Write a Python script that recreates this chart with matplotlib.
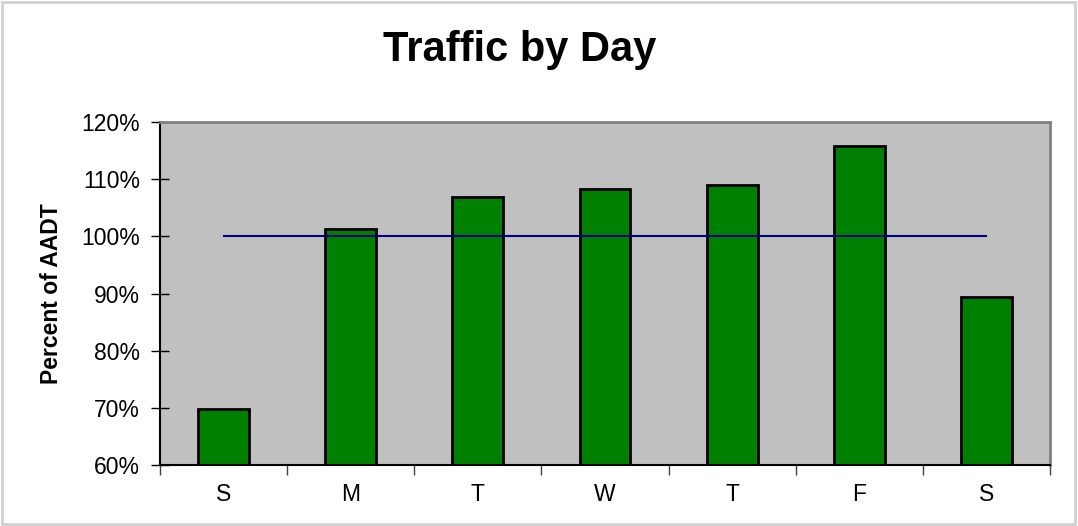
import matplotlib
matplotlib.use("Agg")
import matplotlib.pyplot as plt
from matplotlib.patches import Rectangle
import numpy as np

# datos
dias = ["S", "M", "T", "W", "T", "F", "S"]
porcentaje = [69.8, 101.3, 106.9, 108.2, 109.0, 115.8, 89.4]
referencia = [100, 100, 100, 100, 100, 100, 100]
y_ticks = [60, 70, 80, 90, 100, 110, 120]

plt.rcParams['font.family'] = ['Liberation Sans', 'DejaVu Sans']

fig = plt.figure(figsize=(10.78, 5.26), dpi=100)
ax = fig.add_axes([0.1484, 0.116, 0.8256, 0.652])
ax.set_facecolor("#C0C0C0")

x = np.arange(len(dias))
ax.bar(x, porcentaje, width=0.4, color="#008000", edgecolor="black", linewidth=2, zorder=2)
ax.plot(x, referencia, color="#000080", linewidth=1.5, zorder=3)

ax.set_xlim(-0.5, len(dias) - 0.5)
ax.set_ylim(60, 120)
ax.set_yticks(y_ticks)
ax.set_yticklabels([f"{v}%" for v in y_ticks], fontsize=16.5)
ax.tick_params(axis="y", direction="inout", length=13, width=1, pad=8)

ax.set_xticks(x)
ax.set_xticklabels(dias, fontsize=16.5)
ax.tick_params(axis="x", which="major", length=0, pad=13)
ax.set_xticks(np.arange(len(dias) + 1) - 0.5, minor=True)
ax.tick_params(axis="x", which="minor", direction="out", length=7, width=1, color="#404040")

for lado in ["top", "right"]:
    ax.spines[lado].set_color("#808080")
    ax.spines[lado].set_linewidth(2)
for lado in ["left", "bottom"]:
    ax.spines[lado].set_color("black")
    ax.spines[lado].set_linewidth(1.5)

ax.set_ylabel("Percent of AADT", fontsize=16.5, fontweight="bold", labelpad=13)
fig.text(0.482, 0.905, "Traffic by Day", fontsize=30, fontweight="bold", ha="center", va="center")

# borde de la figura
fig.patches.append(Rectangle((0.002, 0.004), 0.995, 0.993, transform=fig.transFigure,
                             fill=False, edgecolor="#D0D0D0", linewidth=2))

plt.savefig("out.png")
